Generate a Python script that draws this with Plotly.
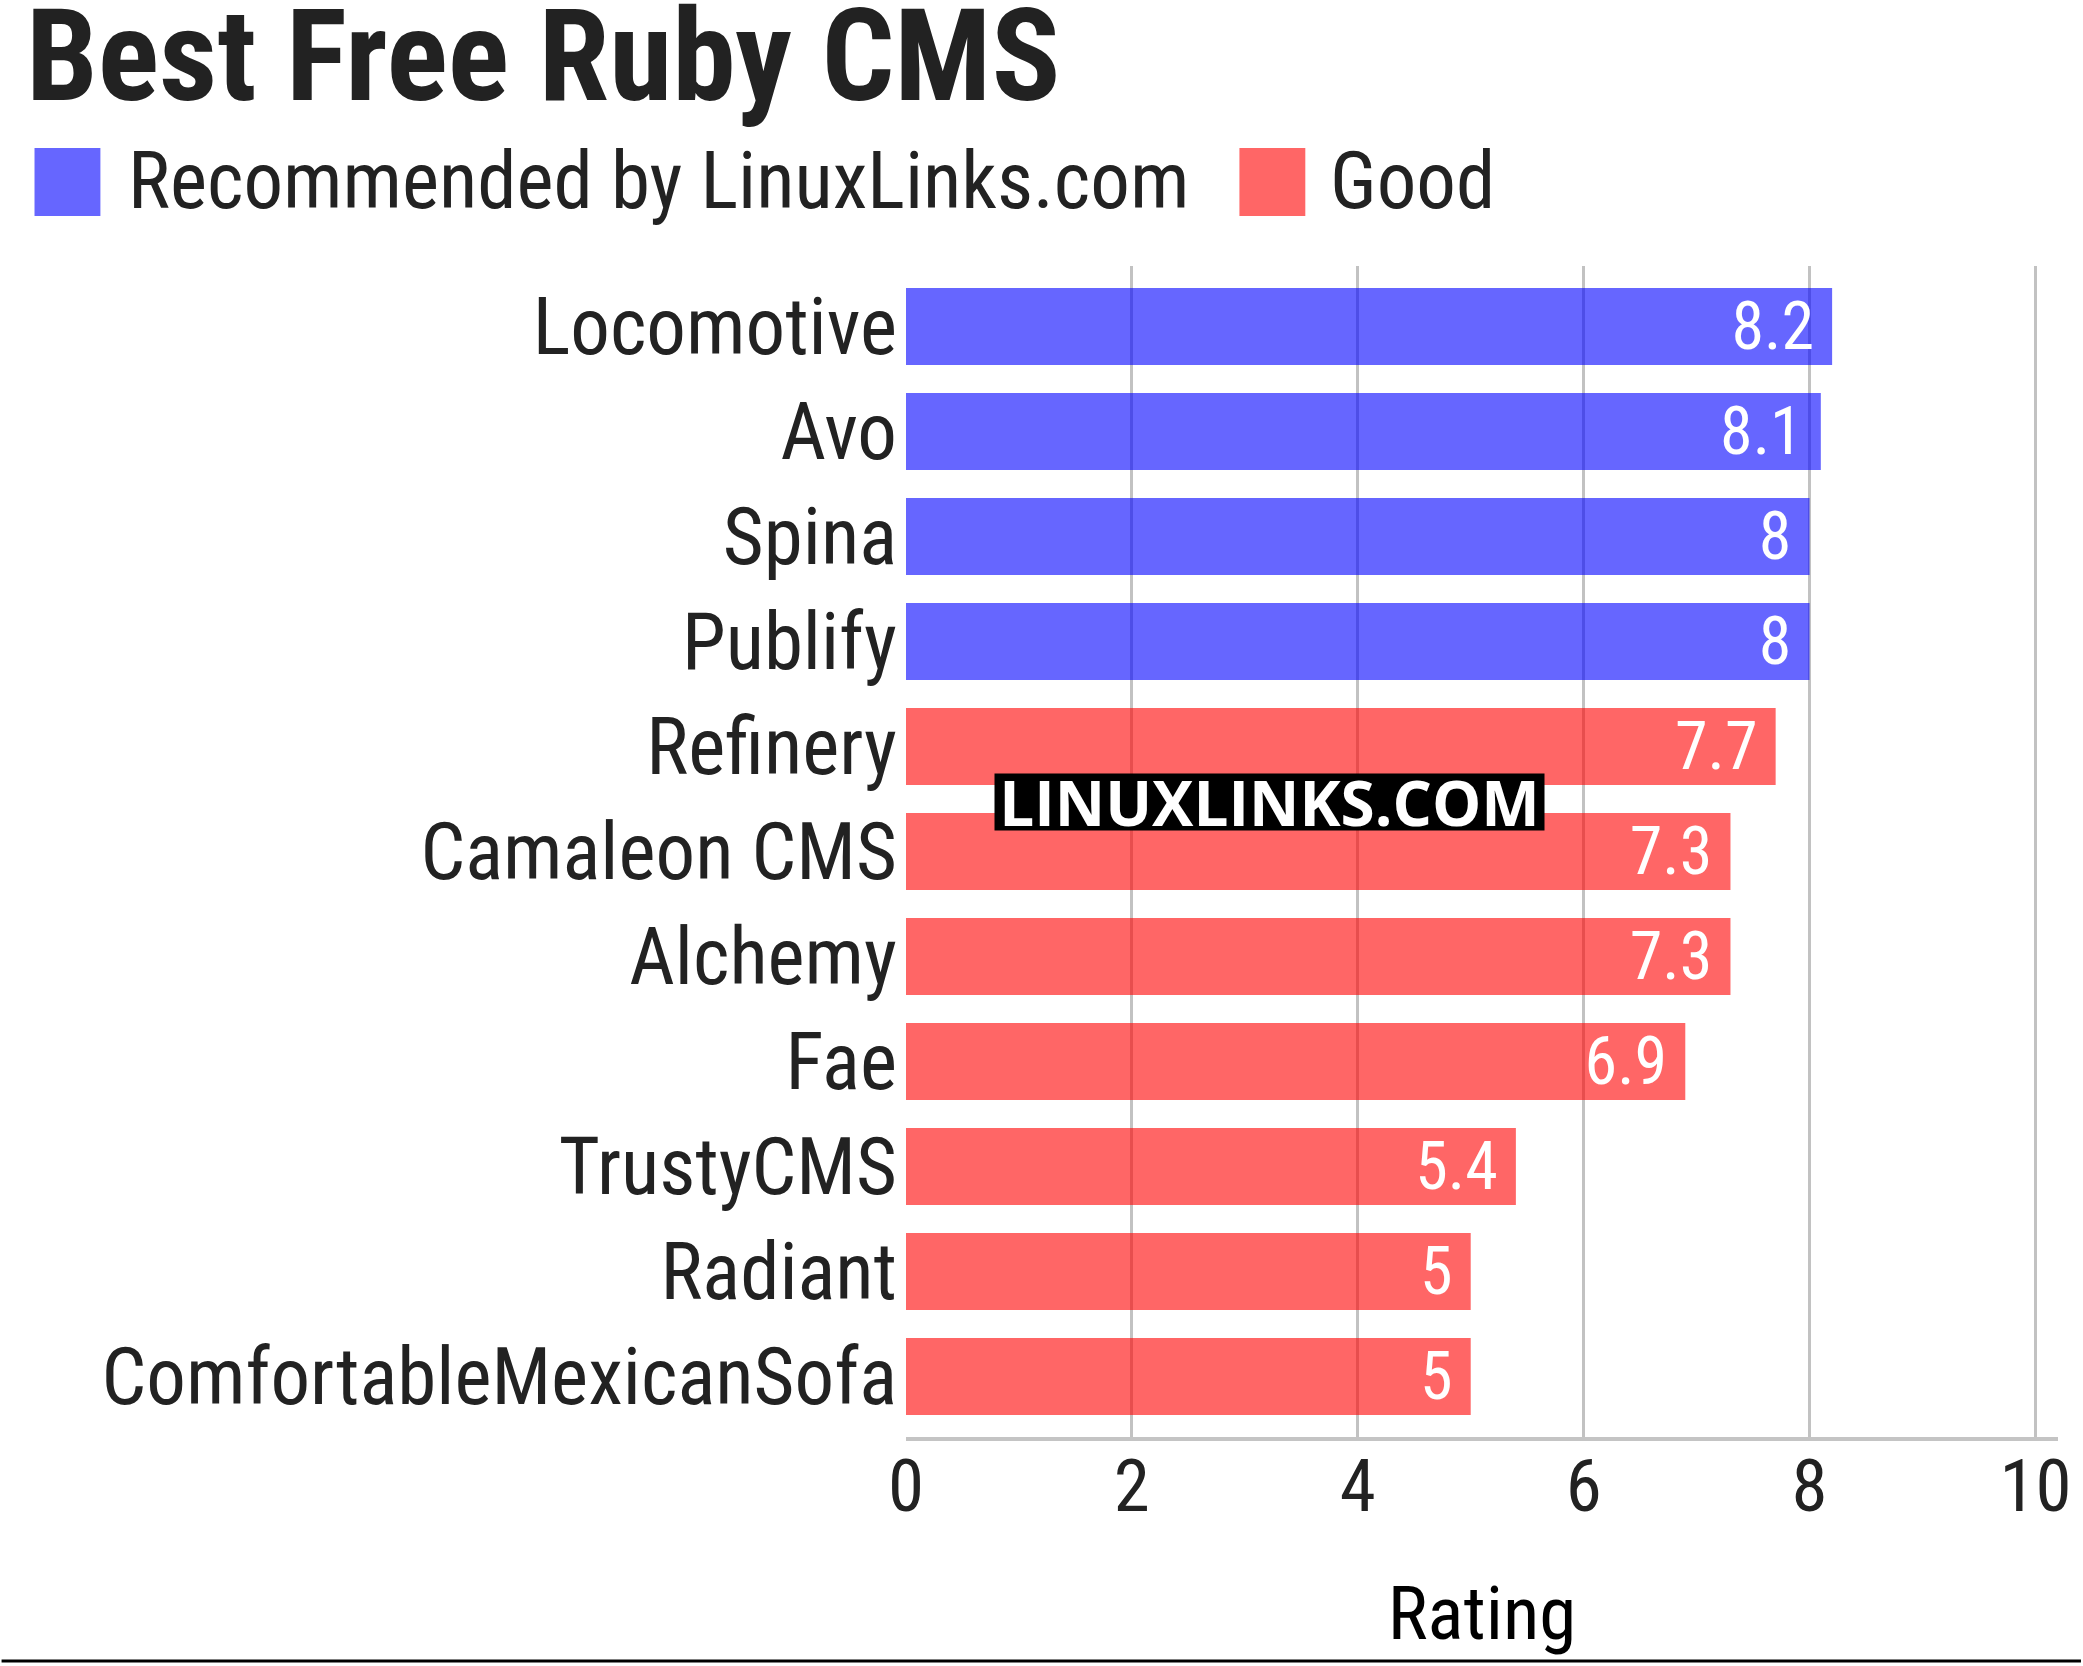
import plotly.graph_objects as go

categories = ["Locomotive", "Avo", "Spina", "Publify", "Refinery", "Camaleon CMS",
              "Alchemy", "Fae", "TrustyCMS", "Radiant", "ComfortableMexicanSofa"]
ratings = [8.2, 8.1, 8, 8, 7.7, 7.3, 7.3, 6.9, 5.4, 5, 5]
groups = ["Recommended by LinuxLinks.com"] * 4 + ["Good"] * 7
group_names = ["Recommended by LinuxLinks.com", "Good"]
group_colors = {"Recommended by LinuxLinks.com": "rgba(0,0,255,0.6)", "Good": "rgba(255,0,0,0.6)"}
x_ticks = [0, 2, 4, 6, 8, 10]
title_text = "Best Free Ruby CMS"
x_title = "Rating"
watermark = "LINUXLINKS.COM"

W, H = 2083, 1666
L, R, T, B = 906, 2060, 266, 1437
FONT = "Roboto Condensed, Liberation Sans Narrow, Roboto, sans-serif"
TXT = "#222222"

fig = go.Figure()
for g in group_names:
    ys = [c for c, gg in zip(categories, groups) if gg == g]
    xs = [v for v, gg in zip(ratings, groups) if gg == g]
    fig.add_trace(go.Bar(
        x=xs, y=ys, orientation="h", name=g,
        marker=dict(color=group_colors[g], line=dict(width=0)),
        text=[f"{v:g}\u00a0" for v in xs], textposition="inside",
        insidetextanchor="end", textangle=0, constraintext="none",
        insidetextfont=dict(color="white", size=66, family=FONT),
        showlegend=False,
    ))

fig.update_layout(
    width=W, height=H,
    margin=dict(l=L, r=W - R, t=T, b=H - B, pad=0),
    paper_bgcolor="white", plot_bgcolor="white",
    barmode="overlay", bargap=0.267,
    font=dict(family=FONT, color=TXT),
)
fig.update_xaxes(
    range=[0, 10.2], tickvals=x_ticks, showgrid=True, gridcolor="#c2c2c2", gridwidth=3,
    zeroline=False, showline=True, linecolor="#c4c4c4", linewidth=4,
    tickfont=dict(size=73, color=TXT), ticks="", ticklabelstandoff=-18,
    title=dict(text=x_title, font=dict(size=75, color="black"), standoff=60),
)
fig.update_yaxes(
    type="category", categoryorder="array", categoryarray=categories,
    range=[10.575, -0.575], showgrid=False, zeroline=False, showline=False,
    tickfont=dict(size=79, color=TXT), ticks="", ticklabelstandoff=8,
)

def px_x(X):
    return (X - L) / (R - L)

def px_y(Y):
    return (B - Y) / (B - T)

# title
fig.add_annotation(text=f"<b>{title_text}</b>", xref="paper", yref="paper",
                   x=px_x(22), y=px_y(56), xanchor="left", yanchor="middle",
                   showarrow=False, font=dict(size=128, color=TXT, family=FONT))

# legend (manual)
leg = [(group_names[0], 33, 125), (group_names[1], 1240, 1329)]
for name, sx, tx in leg:
    fig.add_shape(type="rect", xref="paper", yref="paper",
                  x0=px_x(sx), x1=px_x(sx + 66), y0=px_y(148), y1=px_y(216),
                  fillcolor=group_colors[name], line=dict(width=0))
    fig.add_annotation(text=name, xref="paper", yref="paper", x=px_x(tx), y=px_y(181),
                       xanchor="left", yanchor="middle", showarrow=False,
                       font=dict(size=79, color=TXT, family=FONT))

# watermark
fig.add_annotation(text=f"<b>{watermark}</b>", xref="paper", yref="paper",
                   x=px_x(1270), y=px_y(802), xanchor="center", yanchor="middle",
                   width=549, height=56,
                   showarrow=False, bgcolor="black", borderpad=0,
                   font=dict(size=62, color="white", family="Open Sans, DejaVu Sans, sans-serif"))

# bottom rule
fig.add_shape(type="line", xref="paper", yref="paper",
              x0=px_x(0), x1=px_x(W), y0=px_y(1661), y1=px_y(1661),
              line=dict(color="black", width=3))

fig.write_html("out.html")
